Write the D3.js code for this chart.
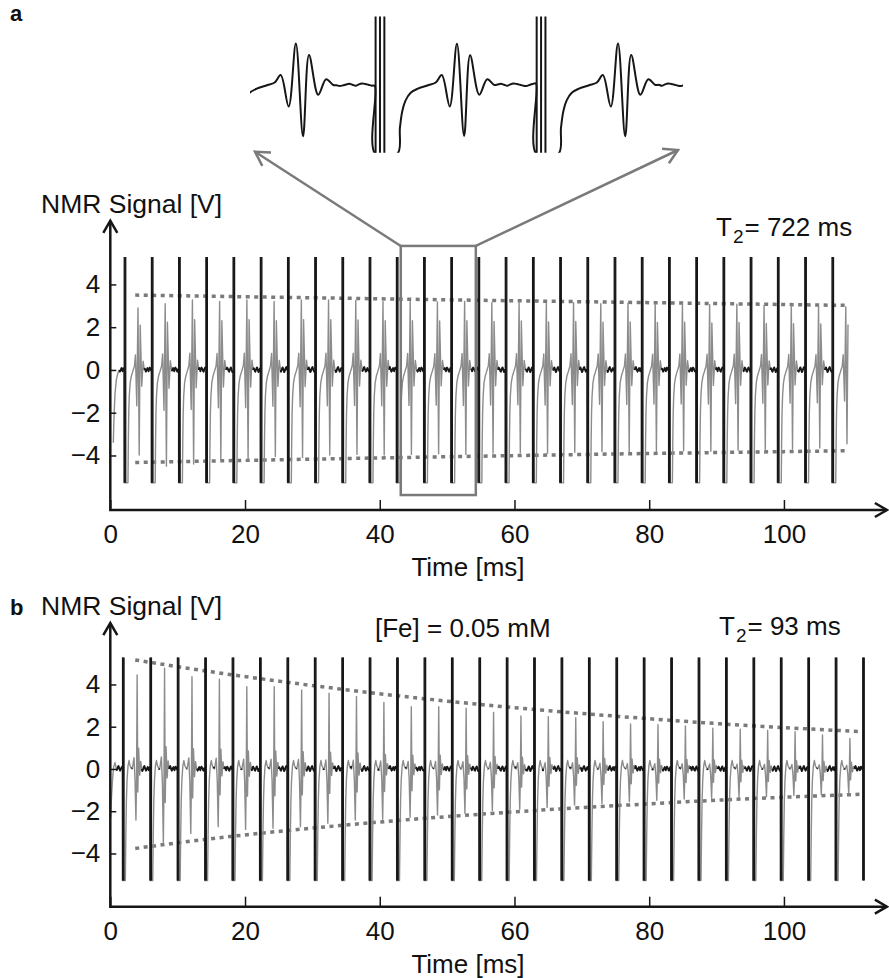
<!DOCTYPE html>
<html>
<head>
<meta charset="utf-8">
<script src="https://cdn.jsdelivr.net/npm/d3@7"></script>
<style>
  body { margin: 0; background: #fff; }
  text { font-family: "Liberation Sans", Arial, sans-serif; fill: #111; }
</style>
</head>
<body>
<svg id="fig" width="889" height="978"></svg>
<script>
// ---- data ----
const tickTimes = [0, 20, 40, 60, 80, 100];
const tickVolts = [-4, -2, 0, 2, 4];

// panel a : T2 = 722 ms
const pulsesA = [2.18, 6.22, 10.26, 14.30, 18.34, 22.39, 26.43, 30.47, 34.51, 38.55, 42.59, 46.63, 50.67, 54.71,
                 58.75, 62.80, 66.84, 70.88, 74.92, 78.96, 83.00, 87.04, 91.08, 95.12, 99.16, 103.21, 107.25];
const echoUpA = [2.9, 3.1, 3.27, 3.2, 3.27, 3.2, 3.27, 3.27, 3.25, 3.2, 3.2, 3.18, 3.2, 3.15,
                 3.18, 3.12, 3.15, 3.1, 3.12, 3.08, 3.1, 3.05, 3.08, 3.02, 3.0, 2.98, 2.95];
const echoDownA = [-3.98, -4.5, -4.4, -4.21, -4.2, -4.05, -4.1, -3.98, -3.95, -3.98, -3.95, -3.92, -3.95, -3.9,
                   -3.88, -3.9, -3.85, -3.82, -3.85, -3.8, -3.78, -3.8, -3.75, -3.72, -3.7, -3.65, -3.45];
const lastEchoA = 109.27;
const traceEndA = 109.6;
const startA = [[0.45, -3.4], [0.55, -2.2], [0.7, -1.1], [0.9, -0.45], [1.15, -0.12], [1.35, 0]];
const envTimesA = [3.7, 25, 50, 75, 100, 109.1];
const envTopA = [3.5, 3.4, 3.28, 3.17, 3.06, 3.02];
const envBotA = [-4.33, -4.2, -4.06, -3.93, -3.82, -3.78];

// panel b : [Fe] = 0.05 mM, T2 = 93 ms
const pulsesB = [1.93, 6.00, 10.07, 14.14, 18.21, 22.28, 26.35, 30.42, 34.49, 38.56, 42.63, 46.70, 50.77, 54.84,
                 58.91, 62.97, 67.04, 71.11, 75.18, 79.25, 83.32, 87.39, 91.46, 95.53, 99.60, 103.67, 107.74, 111.81];
const echoUpB = [4.45, 4.77, 4.37, 4.25, 3.9, 3.9, 3.74, 3.59, 3.43, 3.15, 2.95, 2.95, 2.88, 2.67,
                 2.51, 2.48, 2.43, 2.24, 2.13, 2.09, 2.04, 1.93, 1.88, 1.82, 1.77, 1.61, 1.45];
const echoDownB = [-2.42, -3.52, -3.05, -2.73, -2.86, -2.81, -2.73, -2.57, -2.42, -2.38, -2.29, -2.18, -2.10, -1.97,
                   -1.91, -1.82, -1.71, -1.63, -1.55, -1.48, -1.42, -1.39, -1.34, -1.31, -1.26, -1.22, -1.15];
const startB = [[0.05, -2.3], [0.2, -1.2], [0.35, -0.4], [0.5, 0.1], [0.7, 0.3], [0.9, 0]];
const envTimesB = [3.7, 15, 30, 45, 60, 75, 90, 111.3];
const envTopB = [5.16, 4.6, 3.95, 3.38, 2.9, 2.5, 2.15, 1.77];
const envBotB = [-3.76, -3.3, -2.8, -2.38, -2.03, -1.74, -1.48, -1.2];

// shape of one echo / pulse recovery (offset in ms, relative value)
const echoShapeA = [[-0.8, 0], [-0.62, 0.06], [-0.47, 0.24], [-0.27, -0.42], [-0.09, 1], [0.09, -1],
                    [0.24, 0.72], [0.47, -0.19], [0.67, 0.14], [0.85, 0]];
const echoShapeB = [[-0.7, 0], [-0.45, 0.12], [-0.3, -0.2], [-0.16, -1], [-0.07, -0.25], [0.02, 1],
                    [0.12, -0.45], [0.24, 0.22], [0.4, -0.12], [0.55, 0.08], [0.7, 0]];
const recoveryA = [[-0.12, -5.28], [0.44, -5.28], [0.5, -3.3], [0.56, -2.0], [0.64, -1.2], [0.77, -0.6], [0.95, -0.28], [1.15, -0.08]];
const recoveryB = [[-0.12, -5.28], [0.3, -5.28], [0.38, -3.1], [0.46, -1.5], [0.56, -0.5], [0.7, 0.15], [0.85, 0.4], [1.0, 0.15], [1.2, 0.02]];
const pulseOffsets = [-0.11, 0, 0.11];
const baselineNoise = [0.05, 0.11, 0.08, 0.02, -0.05, -0.08, 0.0, 0.07, 0.12, 0.05, -0.03, -0.1,
                       -0.05, 0.03, 0.1, 0.14, 0.06, -0.02, -0.08, -0.03, 0.04, 0.09, 0.02, -0.06];
const CLIP = 5.28;

const insetTime = [43.37, 54.23];
const boxTime = [43.12, 54.26];
const boxVolt = [5.8, -5.85];

// ---- scales ----
const svg = d3.select("#fig");
const x = d3.scaleLinear().domain([0, 115.3]).range([110.3, 887]);
const yA = d3.scaleLinear().domain([-6.55, 6.98]).range([510, 220.7]);
const yB = d3.scaleLinear().domain([-6.52, 6.91]).range([906.7, 623]);
const xIn = d3.scaleLinear().domain(insetTime).range([250, 683]);
const yIn = d3.scaleLinear().domain([-CLIP, CLIP]).range([153.6, 16.4]);

const BLACK = "#161616", GREY = "#8c8c8c", DOT = "#7a7a7a";

function midpoints(p, last) {
    let out = p.slice(0, -1).map((d, i) => (d + p[i + 1]) / 2);
    if (last !== undefined) out.push(last);
    return out;
}

function buildTrace(c) {
    const pts = [];
    const base = (t0, t1) => {
        for (let t = t0; t <= t1 + 1e-9; t += 0.08) {
            const i = Math.round(t / 0.08) % baselineNoise.length;
            pts.push({t: t, v: baselineNoise[i], g: false});
        }
    };
    c.start.forEach(d => pts.push({t: d[0], v: d[1], g: true}));
    base(c.start[c.start.length - 1][0] + 0.08, c.pulses[0] - 0.13);
    c.pulses.forEach((p, k) => {
        const next = k + 1 < c.pulses.length ? c.pulses[k + 1] - 0.13 : c.end;
        if (next <= p) return;
        c.recovery.forEach(d => { if (p + d[0] <= next) pts.push({t: p + d[0], v: d[1], g: true}); });
        const e = c.echoes[k];
        if (e === undefined) return;
        const rEnd = p + c.recovery[c.recovery.length - 1][0];
        base(rEnd + 0.08, e + c.shape[0][0] - 0.04);
        c.shape.forEach(d => {
            const t = e + d[0];
            if (t > next) return;
            const v = d[1] >= 0 ? d[1] * c.up[k] : -d[1] * c.down[k];
            pts.push({t: t, v: v, g: true});
        });
        base(e + c.shape[c.shape.length - 1][0] + 0.08, next);
    });
    return pts;
}

function runs(pts) {
    const out = [];
    let cur = null;
    pts.forEach(d => {
        if (!cur || cur.g !== d.g) {
            const prev = cur ? cur.pts[cur.pts.length - 1] : null;
            cur = {g: d.g, pts: prev ? [prev] : []};
            out.push(cur);
        }
        cur.pts.push(d);
    });
    return out;
}

const traceA = buildTrace({pulses: pulsesA, echoes: midpoints(pulsesA, lastEchoA), up: echoUpA, down: echoDownA,
                           shape: echoShapeA, recovery: recoveryA, start: startA, end: traceEndA});
const traceB = buildTrace({pulses: pulsesB, echoes: midpoints(pulsesB), up: echoUpB, down: echoDownB,
                           shape: echoShapeB, recovery: recoveryB, start: startB, end: pulsesB[pulsesB.length - 1]});

function chevron(x1, y1, x2, y2, len, ang) {
    const a = Math.atan2(y1 - y2, x1 - x2);
    const p1 = [x2 + len * Math.cos(a + ang), y2 + len * Math.sin(a + ang)];
    const p2 = [x2 + len * Math.cos(a - ang), y2 + len * Math.sin(a - ang)];
    return `M${p1[0]},${p1[1]}L${x2},${y2}L${p2[0]},${p2[1]}`;
}

function drawPanel(y, trace, pulses, envT, envTop, envBot) {
    const g = svg.append("g");
    const axisY = y.range()[0], tipY = y.range()[1];

    // envelopes
    const env = d3.line().x(d => x(d[0])).y(d => y(d[1])).curve(d3.curveMonotoneX);
    [envTop, envBot].forEach(vals => {
        g.append("path")
            .attr("d", env(envT.map((t, i) => [t, vals[i]])))
            .attr("fill", "none").attr("stroke", DOT).attr("stroke-width", 3.5)
            .attr("stroke-dasharray", "4,4.5");
    });

    // trace
    const line = d3.line().x(d => x(d.t)).y(d => y(d.v));
    const rs = runs(trace);
    rs.filter(r => r.g).forEach(r => {
        g.append("path").attr("d", line(r.pts)).attr("fill", "none")
            .attr("stroke", GREY).attr("stroke-width", 1.4).attr("stroke-linejoin", "round");
    });
    rs.filter(r => !r.g).forEach(r => {
        g.append("path").attr("d", line(r.pts)).attr("fill", "none")
            .attr("stroke", BLACK).attr("stroke-width", 1.9).attr("stroke-linejoin", "round");
    });

    // pulses
    pulses.forEach(p => {
        pulseOffsets.forEach(o => {
            g.append("line")
                .attr("x1", x(p + o)).attr("x2", x(p + o))
                .attr("y1", y(CLIP)).attr("y2", y(-CLIP))
                .attr("stroke", BLACK).attr("stroke-width", 1.3);
        });
    });

    // axes
    const ax = g.append("g").attr("transform", `translate(0,${axisY})`)
        .call(d3.axisBottom(x).tickValues(tickTimes).tickSizeInner(-10).tickSizeOuter(0)
              .tickPadding(14.5).tickFormat(d3.format("d")));
    ax.select(".domain").remove();
    ax.selectAll("line").attr("stroke", BLACK).attr("stroke-width", 1.5);
    ax.selectAll("text").attr("font-size", 26).attr("font-family", null).attr("fill", "#111");

    const ay = g.append("g").attr("transform", `translate(${x(0)},0)`)
        .call(d3.axisLeft(y).tickValues(tickVolts).tickSizeInner(-6).tickSizeOuter(0)
              .tickPadding(10).tickFormat(d => d < 0 ? "\u2212" + Math.abs(d) : d));
    ay.select(".domain").remove();
    ay.selectAll("line").attr("stroke", BLACK).attr("stroke-width", 1.5);
    ay.selectAll("text").attr("font-size", 26).attr("font-family", null).attr("fill", "#111");

    const x0 = x(0), xEnd = x.range()[1];
    g.append("path").attr("d", `M${x0},${tipY}V${axisY}H${xEnd}`)
        .attr("fill", "none").attr("stroke", BLACK).attr("stroke-width", 2.5);
    g.append("path").attr("d", chevron(x0, axisY, x0, tipY, 14, Math.PI / 6))
        .attr("fill", "none").attr("stroke", BLACK).attr("stroke-width", 2.5);
    g.append("path").attr("d", chevron(x0, axisY, xEnd, axisY, 14, Math.PI / 6))
        .attr("fill", "none").attr("stroke", BLACK).attr("stroke-width", 2.5);

    // axis titles
    g.append("text").attr("x", 41).attr("y", tipY - 8).attr("font-size", 26.5).text("NMR Signal [V]");
    g.append("text").attr("x", 468).attr("y", axisY + 66).attr("font-size", 26)
        .attr("text-anchor", "middle").text("Time [ms]");
    return g;
}

function t2Label(xPos, yPos, value) {
    const t = svg.append("text").attr("x", xPos).attr("y", yPos).attr("font-size", 26);
    t.append("tspan").text("T");
    t.append("tspan").attr("font-size", 19).attr("dy", 7).attr("dx", 1).text("2");
    t.append("tspan").attr("dy", -7).attr("dx", 1).text("= " + value + " ms");
}

// ---- panel a ----
drawPanel(yA, traceA, pulsesA, envTimesA, envTopA, envBotA);
svg.append("text").attr("x", 10).attr("y", 21).attr("font-size", 22).attr("font-weight", "bold").text("a");
t2Label(716, 236, 722);

// zoom box + arrows
svg.append("rect")
    .attr("x", x(boxTime[0])).attr("y", yA(boxVolt[0]))
    .attr("width", x(boxTime[1]) - x(boxTime[0])).attr("height", yA(boxVolt[1]) - yA(boxVolt[0]))
    .attr("fill", "none").attr("stroke", DOT).attr("stroke-width", 2.5);
const arrowTips = [[255, 151.7], [678, 150]];
[[x(boxTime[0]), yA(boxVolt[0])], [x(boxTime[1]), yA(boxVolt[0])]].forEach((s, i) => {
    const tip = arrowTips[i];
    svg.append("path").attr("d", `M${s[0]},${s[1]}L${tip[0]},${tip[1]}`)
        .attr("stroke", DOT).attr("stroke-width", 2.5).attr("fill", "none");
    svg.append("path").attr("d", chevron(s[0], s[1], tip[0], tip[1], 16, Math.PI / 6))
        .attr("stroke", DOT).attr("stroke-width", 2.5).attr("fill", "none");
});

// inset (blow-up of the boxed region)
svg.append("clipPath").attr("id", "insetClip").append("rect")
    .attr("x", 250).attr("y", 10).attr("width", 433).attr("height", 142.8);
const inset = svg.append("g").attr("clip-path", "url(#insetClip)");
const inLine = d3.line().x(d => xIn(d.t)).y(d => yIn(d.v)).curve(d3.curveCatmullRom.alpha(0.5));
inset.append("path")
    .attr("d", inLine(traceA.filter(d => d.t >= insetTime[0] - 0.5 && d.t <= insetTime[1] + 0.5)))
    .attr("fill", "none").attr("stroke", BLACK).attr("stroke-width", 2).attr("stroke-linejoin", "round");
pulsesA.filter(p => p > insetTime[0] && p < insetTime[1]).forEach(p => {
    pulseOffsets.forEach(o => {
        inset.append("line")
            .attr("x1", xIn(p + o)).attr("x2", xIn(p + o))
            .attr("y1", yIn(CLIP)).attr("y2", yIn(-CLIP))
            .attr("stroke", BLACK).attr("stroke-width", 2);
    });
});

// ---- panel b ----
drawPanel(yB, traceB, pulsesB, envTimesB, envTopB, envBotB);
svg.append("text").attr("x", 10).attr("y", 615).attr("font-size", 22).attr("font-weight", "bold").text("b");
svg.append("text").attr("x", 375).attr("y", 637).attr("font-size", 26).text("[Fe] = 0.05 mM");
t2Label(719, 635, 93);
</script>
</body>
</html>
